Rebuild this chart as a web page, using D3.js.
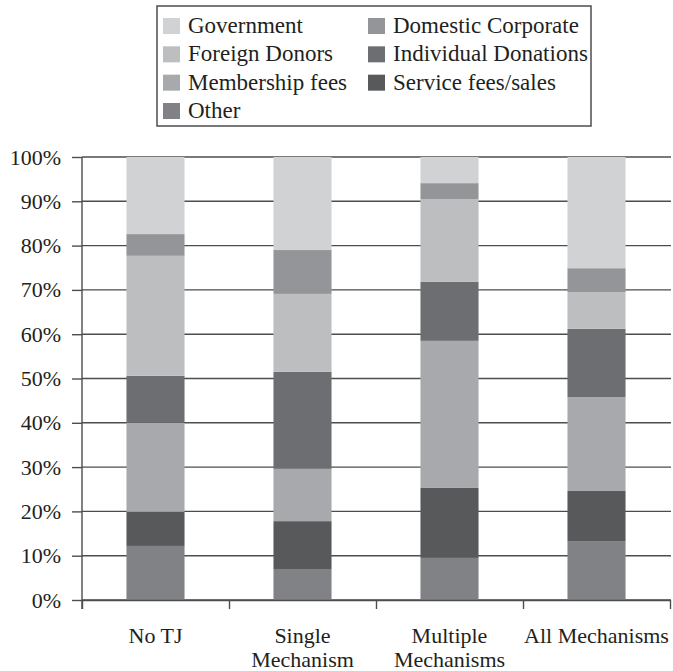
<html>
<script src="https://d3js.org/d3.v7.min.js"></script>
<style>
body{
    margin:0;
    background:#fff;
}
</style>
<body></body>
<script>
const width = 673;
const height = 671;
const fontFamily = '"Liberation Serif", "Times New Roman", serif';

// chart values (percent of funding)
const categories = ['No TJ', 'Single Mechanism', 'Multiple Mechanisms', 'All Mechanisms'];
const categoryLines = [['No TJ'], ['Single', 'Mechanism'], ['Multiple', 'Mechanisms'], ['All Mechanisms']];
const seriesNames = ['Government', 'Domestic Corporate', 'Foreign Donors', 'Individual Donations', 'Membership fees', 'Service fees/sales', 'Other'];
const government  = [17.4, 21.0, 5.9, 25.1];
const domestic    = [4.9, 9.9, 3.6, 5.4];
const foreign     = [27.1, 17.6, 18.7, 8.3];
const individual  = [10.6, 21.9, 13.3, 15.4];
const membership  = [20.1, 11.8, 33.2, 21.2];
const service     = [7.7, 10.8, 15.8, 11.3];
const other       = [12.2, 7.0, 9.5, 13.3];
const yTicks = [0, 10, 20, 30, 40, 50, 60, 70, 80, 90, 100];
const colors = ['#d1d2d4', '#939598', '#bcbec0', '#6d6e71', '#a7a9ac', '#58595b', '#808285'];

const seriesValues = [government, domestic, foreign, individual, membership, service, other];

// rows for d3.stack
const rows = categories.map((c, i)=>{
  const row = {category: c};
  seriesNames.forEach((s, j)=>{ row[s] = seriesValues[j][i]; });
  return row;
});

// stacked from the bottom: Other first, Government on top
const stackKeys = seriesNames.slice().reverse();
const stacked = d3.stack().keys(stackKeys)(rows);
const color = d3.scaleOrdinal().domain(seriesNames).range(colors);

const plotLeft = 82, plotRight = 670, plotTop = 157, plotBottom = 600;

const x = d3.scaleBand()
    .domain(categories)
    .range([plotLeft, plotRight])
    .paddingInner(0.605)
    .paddingOuter(0.3025);

const xEdges = d3.scaleLinear()
    .domain([0, categories.length])
    .range([plotLeft, plotRight]);

const y = d3.scaleLinear()
    .domain([0, 100])
    .range([plotBottom, plotTop]);

const svg = d3.select('body')
    .append('svg')
        .attr('width', width)
        .attr('height', height);

// gridlines
svg.append('g')
    .selectAll('line')
    .data(yTicks)
        .enter()
    .append('line')
        .attr('x1', plotLeft)
        .attr('x2', plotRight + 1)
        .attr('y1', d=>y(d))
        .attr('y2', d=>y(d))
        .attr('stroke', '#4d4d4f')
        .attr('stroke-width', 1.4);

// bars
svg.append('g')
    .selectAll('g')
    .data(stacked)
        .enter()
    .append('g')
        .attr('fill', d=>color(d.key))
    .selectAll('rect')
    .data(d=>d)
        .enter()
    .append('rect')
        .attr('x', d=>x(d.data.category))
        .attr('y', d=>y(d[1]))
        .attr('width', x.bandwidth())
        .attr('height', d=>y(d[0]) - y(d[1]));

// y axis
const yAxis = svg.append('g')
    .attr('transform', `translate(${plotLeft},0)`)
    .call(d3.axisLeft(y).tickValues(yTicks).tickSize(10).tickPadding(11).tickFormat(d=>d + '%'));
yAxis.select('.domain').remove();
yAxis.selectAll('line').attr('stroke', '#4d4d4f').attr('stroke-width', 1.4);
yAxis.selectAll('text')
    .style('font-family', fontFamily)
    .style('font-size', '22px')
    .style('fill', '#231f20');

svg.append('line')
    .attr('x1', plotLeft).attr('x2', plotLeft)
    .attr('y1', plotTop).attr('y2', plotBottom + 9)
    .attr('stroke', '#4d4d4f')
    .attr('stroke-width', 1.4);

// x axis with ticks at the band edges
const xAxis = svg.append('g')
    .attr('transform', `translate(0,${plotBottom})`)
    .call(d3.axisBottom(xEdges).tickValues(d3.range(categories.length + 1)).tickSize(9).tickSizeOuter(0).tickFormat(''));
xAxis.select('.domain').attr('stroke', '#4d4d4f').attr('stroke-width', 1.4);
xAxis.selectAll('line').attr('stroke', '#4d4d4f').attr('stroke-width', 1.4);

// category labels
svg.append('g')
    .selectAll('text')
    .data(categories)
        .enter()
    .append('text')
        .attr('x', d=>x(d) + x.bandwidth() / 2)
        .attr('y', 643)
        .attr('text-anchor', 'middle')
        .style('font-family', fontFamily)
        .style('font-size', '22px')
        .style('fill', '#231f20')
    .each(function(d, i){
        const t = d3.select(this);
        categoryLines[i].forEach((line, k)=>{
            t.append('tspan')
                .attr('x', x(d) + x.bandwidth() / 2)
                .attr('dy', k === 0 ? 0 : 24)
                .text(line);
        });
    });

// legend
const legend = svg.append('g');
legend.append('rect')
    .attr('x', 157)
    .attr('y', 6)
    .attr('width', 434)
    .attr('height', 120)
    .attr('fill', 'none')
    .attr('stroke', '#4d4d4f')
    .attr('stroke-width', 1.5);

const legendCol = d3.scaleOrdinal().domain([0, 1]).range([163, 368]);
const legendRow = d3.scaleLinear().domain([0, 3]).range([26, 111]);

const items = legend.selectAll('g.item')
    .data(seriesNames)
        .enter()
    .append('g')
        .attr('class', 'item')
        .attr('transform', (d, i)=>`translate(${legendCol(i % 2)},${legendRow(Math.floor(i / 2))})`);

items.append('rect')
    .attr('x', 0)
    .attr('y', -8)
    .attr('width', 17)
    .attr('height', 16)
    .attr('fill', d=>color(d));

items.append('text')
    .attr('x', 25)
    .attr('y', 7)
    .style('font-family', fontFamily)
    .style('font-size', '23px')
    .style('fill', '#231f20')
    .text(d=>d);
</script>
</html>
